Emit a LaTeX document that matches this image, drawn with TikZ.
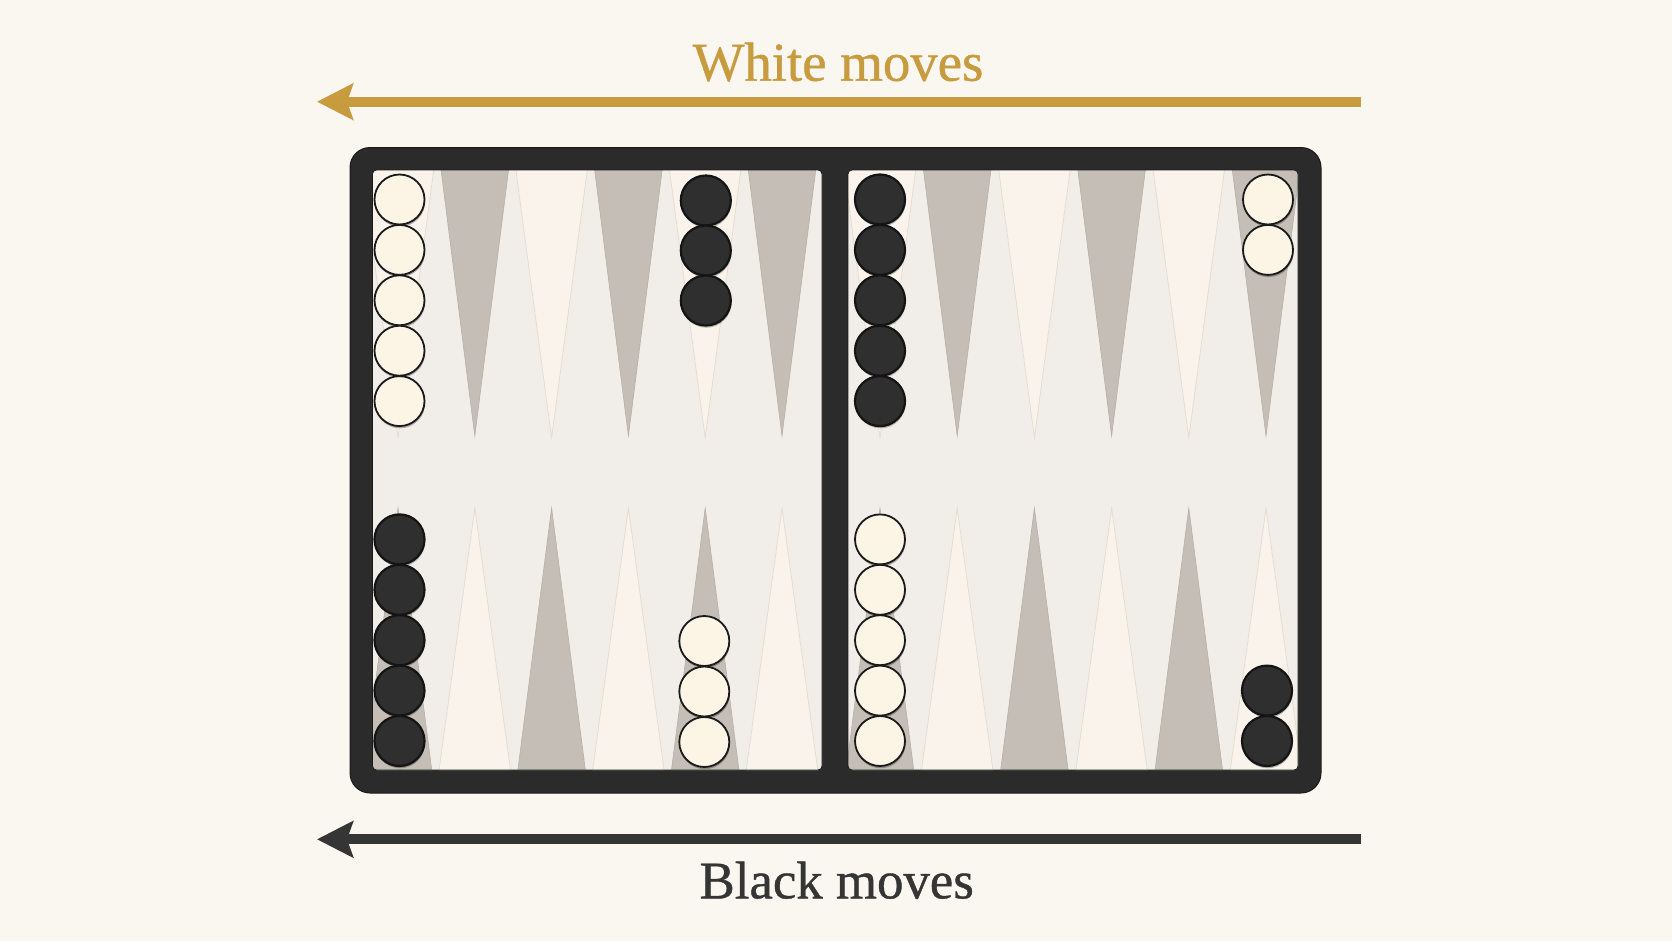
\documentclass[tikz,border=0pt]{standalone}
\usepackage{fontspec}
\setmainfont{Liberation Serif}
\newfontfamily\lblfont[FakeBold=0.8]{Liberation Serif}
\usetikzlibrary{arrows.meta,shadows}
\definecolor{bg}{HTML}{FAF6F0}
\definecolor{gold}{HTML}{C89B3E}
\definecolor{ink}{HTML}{353535}
\definecolor{frame}{HTML}{2B2B2B}
\definecolor{frameedge}{HTML}{1A1A1A}
\definecolor{field}{HTML}{F1EEEA}
\definecolor{ptlight}{HTML}{F9F3EB}
\definecolor{ptlightedge}{HTML}{E6DCCF}
\definecolor{ptdark}{HTML}{C5BEB6}
\definecolor{ptdarkedge}{HTML}{B8B0A7}
\definecolor{wchkfill}{HTML}{FCF5E6}
\definecolor{bchkfill}{HTML}{2F2F2F}
\tikzset{
  chkshadow/.style={drop shadow={shadow xshift=0.6bp, shadow yshift=-2.2bp, opacity=0.28, fill=black}},
  wchk/.style={circle, minimum size=50bp, inner sep=0pt, fill=wchkfill, draw=frameedge, line width=1.8bp, chkshadow},
  bchk/.style={circle, minimum size=50bp, inner sep=0pt, fill=bchkfill, draw=black!92, line width=2.2bp, chkshadow},
  lightpt/.style={fill=ptlight, draw=ptlightedge, line width=0.8bp},
  darkpt/.style={fill=ptdark, draw=ptdarkedge, line width=0.6bp},
  movearrow/.style={line width=10bp, -{Stealth[length=36bp, width=36bp, inset=6bp]}},
  label/.style={anchor=base, inner sep=0pt},
}
\begin{document}
\begin{tikzpicture}[x=1bp,y=-1bp]
\fill[bg] (0,0) rectangle (1672,941);
\useasboundingbox (0,0) rectangle (1672,941);

% title
\node[label, text=gold, font=\lblfont\fontsize{55}{60}\selectfont] (wlabel) at (838,80.7) {White moves};
\coordinate (wstart) at (1361,101.7);
\coordinate (wtip) at (317,101.7);
\draw[movearrow, draw=gold, fill=gold] (wstart) -- (wtip);

% board frame
\draw[fill=frame, draw=frameedge, line width=1bp, rounded corners=20bp] (350,147.5) rectangle (1321,793);
\fill[field, rounded corners=4bp] (372.5,170) rectangle (822,770);
\fill[field, rounded corners=4bp] (848,170) rectangle (1298,770);

% left half points
\begin{scope}
\clip[rounded corners=4bp] (372.5,170) rectangle (822,770);
\foreach \i in {0,...,5} {
  \pgfmathsetmacro\cx{398+76.8*\i}
  \ifodd\i
    \filldraw[darkpt] ({\cx-34},168) -- (\cx,436) -- ({\cx+34},168) -- cycle;
    \filldraw[lightpt] ({\cx-36},772) -- (\cx,508) -- ({\cx+36},772) -- cycle;
  \else
    \filldraw[lightpt] ({\cx-36},168) -- (\cx,438) -- ({\cx+36},168) -- cycle;
    \filldraw[darkpt] ({\cx-34},772) -- (\cx,508) -- ({\cx+34},772) -- cycle;
  \fi
}
\end{scope}
% right half points
\begin{scope}
\clip[rounded corners=4bp] (848,170) rectangle (1298,770);
\foreach \i in {0,...,5} {
  \pgfmathsetmacro\cx{880+77.2*\i}
  \ifodd\i
    \filldraw[darkpt] ({\cx-34},168) -- (\cx,436) -- ({\cx+34},168) -- cycle;
    \filldraw[lightpt] ({\cx-36},772) -- (\cx,508) -- ({\cx+36},772) -- cycle;
  \else
    \filldraw[lightpt] ({\cx-36},168) -- (\cx,438) -- ({\cx+36},168) -- cycle;
    \filldraw[darkpt] ({\cx-34},772) -- (\cx,508) -- ({\cx+34},772) -- cycle;
  \fi
}
\end{scope}
\draw[frameedge, line width=0.8bp, rounded corners=4bp] (372.5,170) rectangle (822,770);
\draw[frameedge, line width=0.8bp, rounded corners=4bp] (848,170) rectangle (1298,770);

% checkers: top left
\foreach \k/\y in {1/199.5,2/249.9,3/300.3,4/350.7,5/401.1}
  \node[wchk] (tlw\k) at (399.5,\y) {};
\foreach \k/\y in {1/200.5,2/250.5,3/300.5}
  \node[bchk] (tlb\k) at (705.8,\y) {};
% top right
\foreach \k/\y in {1/199.5,2/249.9,3/300.3,4/350.7,5/401.1}
  \node[bchk] (trb\k) at (880,\y) {};
\foreach \k/\y in {1/199.5,2/249.9}
  \node[wchk] (trw\k) at (1268,\y) {};
% bottom left
\foreach \k/\y in {5/539.4,4/589.8,3/640.2,2/690.6,1/741}
  \node[bchk] (blb\k) at (399.5,\y) {};
\foreach \k/\y in {3/641,2/691.5,1/742}
  \node[wchk] (blw\k) at (704.3,\y) {};
% bottom right
\foreach \k/\y in {5/539.4,4/589.8,3/640.2,2/690.6,1/741}
  \node[wchk] (brw\k) at (880,\y) {};
\foreach \k/\y in {2/690.6,1/741}
  \node[bchk] (brb\k) at (1267,\y) {};

% black arrow and label
\coordinate (bstart) at (1361,839.3);
\coordinate (btip) at (317,839.3);
\draw[movearrow, draw=ink, fill=ink] (bstart) -- (btip);
\node[label, text=ink, font=\lblfont\fontsize{53}{58}\selectfont] (blabel) at (836.7,898.3) {Black moves};
\end{tikzpicture}
\end{document}
